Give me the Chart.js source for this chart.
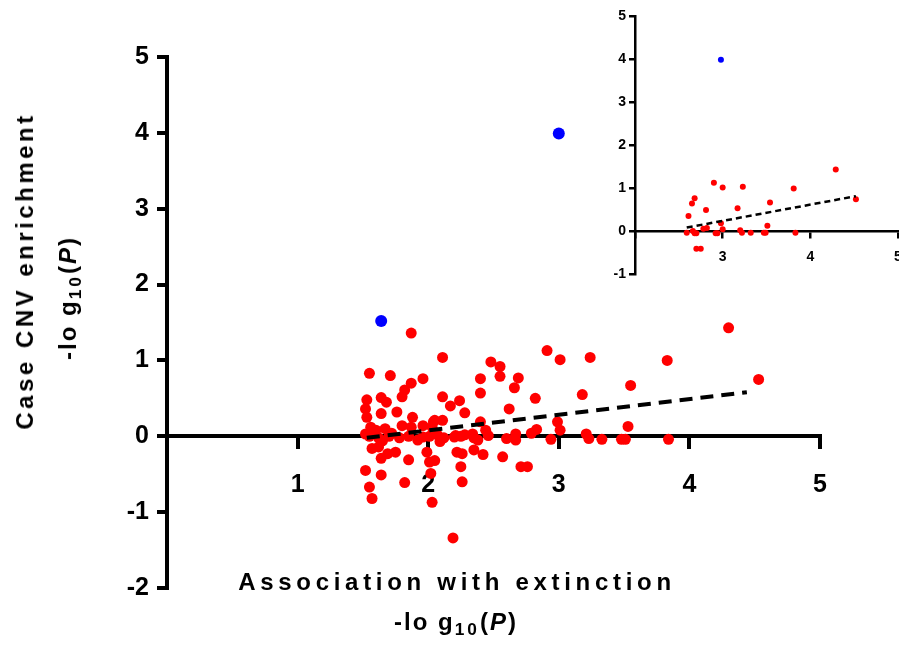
<!DOCTYPE html>
<html>
<head>
<meta charset="utf-8">
<script src="https://cdn.jsdelivr.net/npm/chart.js@4/dist/chart.umd.min.js"></script>
<style>
  body { margin: 0; background: #fff; }
  #wrap { position: relative; width: 899px; height: 646px; overflow: hidden; font-family: "Liberation Sans", Arial, sans-serif; font-weight: bold; color: #000; }
  #main { position: absolute; left: 0; top: 0; }
  #inset { position: absolute; left: 600px; top: 0; }
  .lbl { position: absolute; white-space: nowrap; transform: translate(-50%, -50%); font-size: 24px; }
  .rot { transform: translate(-50%, -50%) rotate(-90deg); }
  sub { font-size: 0.72em; vertical-align: -0.3em; line-height: 0; letter-spacing: 3px; }
</style>
</head>
<body>
<div id="wrap">
  <canvas id="main" width="899" height="646"></canvas>
  <canvas id="inset" width="306" height="290"></canvas>
  <div class="lbl rot" style="left:25px; top:271px; letter-spacing:3.5px;">Case CNV enrichment</div>
  <div class="lbl rot" style="left:68px; top:298px; letter-spacing:2px;">-lo g<sub>10</sub>(<i>P</i>)</div>
  <div class="lbl" style="left:457px; top:582px; letter-spacing:4.7px;">Association with extinction</div>
  <div class="lbl" style="left:456px; top:622px; letter-spacing:2px;">-lo g<sub>10</sub>(<i>P</i>)</div>
</div>
<script>
// main panel: association with extinction (x) vs case CNV enrichment (y)
var redX = [1.87, 2.11, 1.55, 1.71, 1.96, 1.87, 1.82, 1.80, 1.53, 1.52,
            1.64, 1.68, 1.53, 1.64, 1.76, 1.88, 1.56, 1.60, 1.67, 1.80,
            1.87, 1.96, 2.04, 1.55, 1.62, 1.70, 1.78, 1.85, 1.96, 2.01,
            1.57, 1.62, 1.64, 1.69, 1.75, 1.85, 1.99, 2.01, 1.52, 1.64,
            1.55, 1.57, 1.82, 2.02, 2.03, 2.48, 2.55, 2.55, 2.40, 2.40,
            2.11, 2.17, 2.24, 2.28, 2.62, 2.66, 2.69, 2.05, 2.11, 2.03,
            2.40, 2.44, 2.07, 2.21, 2.28, 2.34, 2.46, 2.12, 2.20, 2.25,
            2.35, 2.60, 2.05, 2.22, 2.26, 2.35, 2.42, 2.38, 2.57, 2.25,
            2.26, 2.19, 2.91, 3.01, 2.82, 2.99, 3.01, 2.83, 2.79, 2.67,
            2.67, 2.94, 2.71, 2.76, 3.24, 3.55, 3.18, 3.53, 3.21, 3.23,
            3.33, 3.48, 3.51, 4.30, 3.83, 4.53, 3.84, 1.58, 1.65, 1.72,
            1.92, 2.09, 1.52];
var redY = [1.36, 1.04, 0.83, 0.80, 0.76, 0.70, 0.61, 0.52, 0.48, 0.36,
            0.51, 0.45, 0.25, 0.30, 0.32, 0.25, 0.12, 0.08, 0.10, 0.14,
            0.12, 0.14, 0.19, 0.00, -0.02, 0.00, -0.02, 0.00, -0.01, 0.00,
            -0.16, -0.14, -0.29, -0.23, -0.21, -0.31, -0.21, -0.34, -0.45, -0.51,
            -0.67, -0.82, -0.61, -0.49, -0.87, 0.98, 0.92, 0.79, 0.76, 0.57,
            0.52, 0.40, 0.47, 0.31, 0.36, 0.64, 0.77, 0.21, 0.21, 0.12,
            0.19, 0.08, 0.02, 0.01, 0.02, 0.03, 0.01, -0.02, -0.01, 0.00,
            -0.02, -0.03, -0.32, -0.21, -0.23, -0.18, -0.24, -0.05, -0.27, -0.40,
            -0.60, -1.34, 1.13, 1.01, 0.50, 0.19, 0.08, 0.09, 0.04, 0.03,
            -0.05, -0.04, -0.40, -0.40, 1.04, 0.67, 0.55, 0.13, 0.03, -0.03,
            -0.04, -0.04, -0.04, 1.43, 1.00, 0.75, -0.04, 0.05, -0.06, 0.04,
            -0.05, -0.07, 0.03];
var blueX = [1.64, 3.00];
var blueY = [1.52, 3.99];
var trendX = [1.53, 4.44];
var trendY = [-0.02, 0.58];

// inset panel
var insetRedX = [2.59, 2.61, 2.65, 2.68, 2.81, 2.66, 2.68, 2.70, 2.70, 2.75,
                 2.78, 2.82, 2.90, 3.00, 2.92, 2.94, 2.98, 3.00, 3.17, 3.23,
                 3.20, 3.22, 3.32, 3.47, 3.49, 3.51, 3.54, 3.81, 3.83, 4.29, 4.52];
var insetRedY = [-0.04, 0.35, 0.64, 0.76, 0.49, 0.00, -0.05, -0.05, -0.41, -0.41,
                 0.05, 0.07, 1.12, 1.01, -0.05, -0.05, 0.18, 0.04, 0.53, 1.03,
                 0.02, -0.04, -0.04, -0.04, -0.04, 0.12, 0.66, 0.99, -0.04, 1.43, 0.74];
var insetBlueX = [2.98];
var insetBlueY = [3.98];
var insetTrendX = [2.59, 4.52];
var insetTrendY = [0.08, 0.81];

function toPoints(xs, ys)
{
    var pts = [];
    for (var i = 0; i < xs.length; i++) {
        pts.push({x: xs[i], y: ys[i]});
    }
    return pts;
}

function axisOpts(min, max, pos, fontSize, pad, tickLen, lw, hideValue, fixedWidth)
{
    var opts = {
        type: 'linear',
        position: pos,
        min: min,
        max: max,
        ticks: {
            stepSize: 1,
            color: '#000',
            padding: pad,
            font: {family: '"Liberation Sans", Arial, sans-serif', size: fontSize, weight: 'bold'},
            callback: function(v) { return v === hideValue ? '' : v; }
        },
        grid: {drawOnChartArea: false, drawTicks: true, tickLength: tickLen, lineWidth: lw, color: '#000'},
        border: {display: true, width: lw, color: '#000'}
    };
    if (fixedWidth) {
        opts.afterFit = function(scale) { scale.width = fixedWidth; };
    } else {
        // let the last tick label run past the edge, like the original
        opts.afterFit = function(scale) { scale.paddingRight = 0; };
    }
    return opts;
}

Chart.defaults.animation = false;

new Chart(document.getElementById('main').getContext('2d'), {
    type: 'scatter',
    data: {
        datasets: [
            {
                data: toPoints(trendX, trendY),
                showLine: true,
                borderColor: '#000',
                borderWidth: 4,
                borderDash: [13, 8],
                pointRadius: 0,
                order: 0
            },
            {
                data: toPoints(blueX, blueY),
                backgroundColor: '#0000ff',
                borderWidth: 0,
                pointRadius: 6,
                order: 1
            },
            {
                data: toPoints(redX, redY),
                backgroundColor: '#ff0000',
                borderWidth: 0,
                pointRadius: 5.5,
                order: 2
            }
        ]
    },
    options: {
        responsive: false,
        layout: {padding: {left: 127, top: 57, right: 79, bottom: 58}},
        plugins: {legend: {display: false}, tooltip: {enabled: false}},
        scales: {
            x: axisOpts(0, 5, {y: 0}, 25, 23, 11, 4, 0),
            y: axisOpts(-2, 5, 'left', 25, 8, 10, 4, null, 40)
        }
    }
});

new Chart(document.getElementById('inset').getContext('2d'), {
    type: 'scatter',
    data: {
        datasets: [
            {
                data: toPoints(insetTrendX, insetTrendY),
                showLine: true,
                borderColor: '#000',
                borderWidth: 2.5,
                borderDash: [6, 4],
                pointRadius: 0,
                order: 0
            },
            {
                data: toPoints(insetBlueX, insetBlueY),
                backgroundColor: '#0000ff',
                borderWidth: 0,
                pointRadius: 3,
                order: 1
            },
            {
                data: toPoints(insetRedX, insetRedY),
                backgroundColor: '#ff0000',
                borderWidth: 0,
                pointRadius: 3,
                order: 2
            }
        ]
    },
    options: {
        responsive: false,
        layout: {padding: {left: 10, top: 16, right: 8, bottom: 16}},
        plugins: {legend: {display: false}, tooltip: {enabled: false}},
        scales: {
            x: axisOpts(2, 5, {y: 0}, 14, 12, 6, 2.5, 2),
            y: axisOpts(-1, 5, 'left', 14, 3, 6, 2.5, null, 25)
        }
    }
});
</script>
</body>
</html>
